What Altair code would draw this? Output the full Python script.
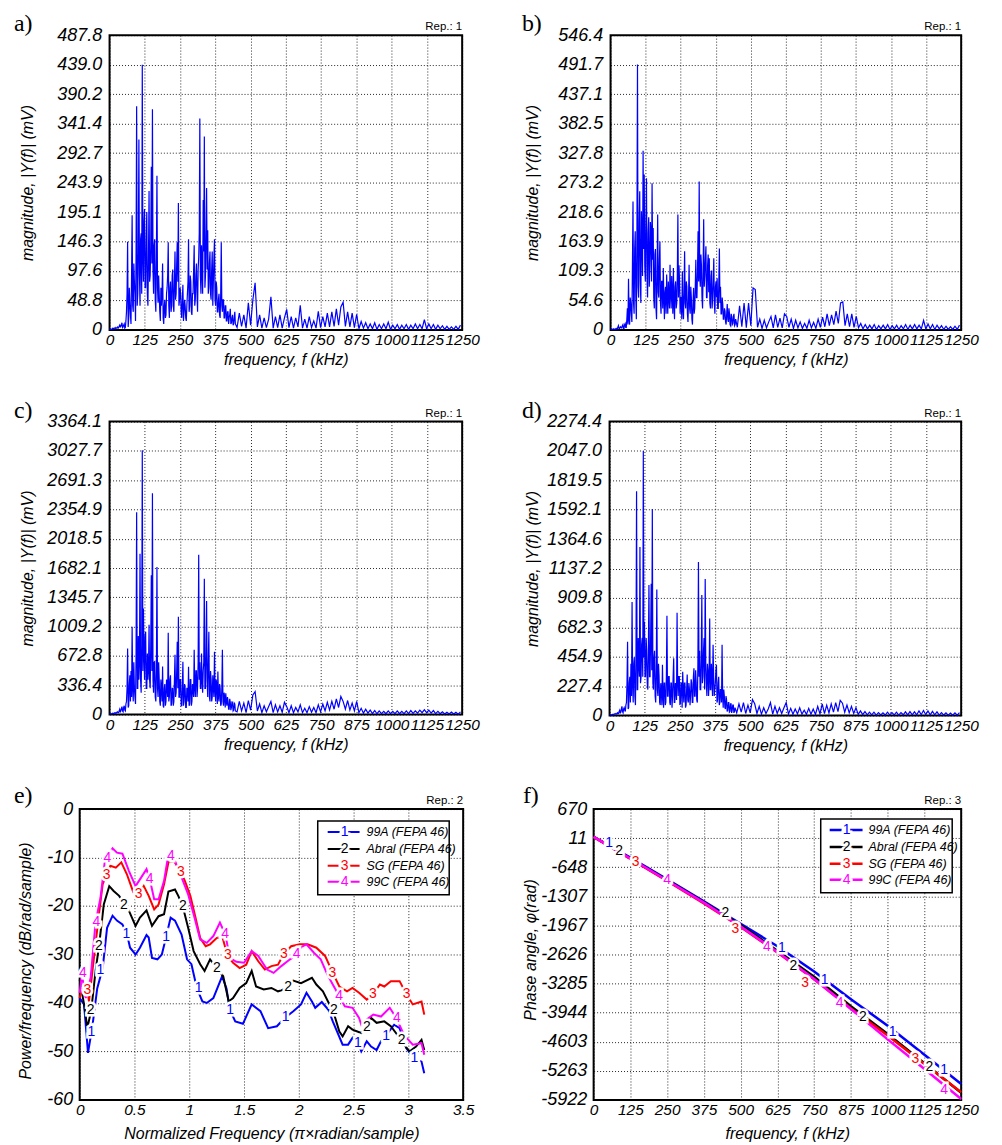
import altair as alt
import pandas as pd

SANS = "Liberation Sans Narrow, Liberation Sans, Arial, sans-serif"
PLAIN = "Liberation Sans, Arial, sans-serif"
SERIF = "Liberation Serif, Times New Roman, serif"

COLORS = ["#0000ff", "#000000", "#ff0000", "#ff00ff"]
SER_NUMS = ["1", "2", "3", "4"]
SER_NAMES = ["99A (FEPA 46)", "Abral (FEPA 46)", "SG (FEPA 46)", "99C (FEPA 46)"]

# ---------------- spectra (panels a-d) ----------------
F_TICKS = [0, 125, 250, 375, 500, 625, 750, 875, 1000, 1125, 1250]
FREQ_LOW = list(range(0, 448, 2))      # FFT bins 0..446 kHz
FREQ_HIGH = list(range(452, 1250, 8))  # FFT bins 452..1244 kHz

A_LOW = [1, 1, 2, 1, 1, 2, 3, 2, 2, 3, 4, 2, 3, 4, 5, 3,
         4, 6, 8, 5, 6, 9, 12, 4, 5, 8, 10, 3, 4, 15, 30, 60,
         146, 5, 20, 70, 45, 25, 10, 90, 190, 40, 30, 110, 80, 60, 15, 130,
         370, 40, 60, 130, 315, 90, 40, 150, 160, 60, 439, 120, 80, 180, 200, 70,
         70, 150, 195, 60, 40, 120, 230, 80, 90, 140, 270, 110, 365, 100, 60, 140,
         150, 50, 30, 120, 255, 70, 45, 90, 60, 30, 15, 70, 40, 60, 110, 20,
         10, 40, 50, 20, 25, 60, 70, 90, 145, 40, 20, 70, 80, 30, 40, 90,
         100, 40, 30, 80, 130, 50, 60, 110, 145, 80, 210, 40, 50, 70, 60, 30,
         20, 50, 75, 15, 30, 50, 40, 20, 15, 40, 60, 80, 150, 30, 40, 90,
         80, 30, 25, 60, 60, 100, 140, 40, 50, 90, 110, 60, 30, 100, 120, 160,
         350, 90, 60, 140, 100, 60, 215, 130, 320, 70, 90, 160, 235, 100, 165, 60,
         70, 110, 130, 60, 50, 100, 130, 40, 80, 120, 150, 50, 40, 80, 70, 30,
         30, 50, 60, 25, 20, 60, 145, 40, 30, 50, 50, 20, 20, 40, 40, 15,
         15, 30, 30, 10, 20, 25, 35, 10, 12, 20, 25, 8, 10, 20, 30, 10]
A_HIGH = [4, 28, 6, 25, 3, 45, 8, 50, 78, 5,
          25, 3, 20, 4, 18, 55, 3, 22, 4, 25,
          3, 20, 34, 4, 22, 3, 20, 5, 41, 3,
          18, 3, 22, 4, 15, 3, 31, 4, 22, 5,
          28, 5, 30, 6, 35, 8, 38, 46, 6, 30,
          5, 28, 4, 26, 2, 14, 3, 12, 2, 10,
          2, 12, 1, 9, 2, 10, 2, 13, 1, 8,
          2, 9, 1, 8, 2, 9, 1, 8, 2, 10,
          2, 9, 2, 17, 2, 10, 2, 9, 1, 8,
          2, 7, 1, 6, 1, 5, 1, 6, 1, 8]
A_YTICKS = [0, 48.8, 97.6, 146.3, 195.1, 243.9, 292.7, 341.4, 390.2, 439.0, 487.8]

B_LOW = [1, 1, 2, 1, 1, 2, 2, 1, 1, 2, 3, 2, 2, 5, 8, 3,
         3, 5, 6, 4, 4, 8, 10, 3, 3, 10, 12, 5, 5, 20, 40, 10,
         95, 20, 10, 60, 50, 30, 15, 120, 238, 50, 30, 150, 183, 60, 20, 180,
         492, 80, 60, 200, 257, 90, 50, 220, 180, 100, 332, 150, 288, 120, 90, 200,
         281, 100, 60, 180, 209, 80, 120, 200, 180, 90, 272, 130, 189, 60, 40, 140,
         150, 40, 20, 110, 214, 70, 60, 130, 164, 50, 30, 90, 90, 40, 115, 60,
         20, 70, 80, 30, 103, 60, 30, 90, 60, 40, 121, 70, 40, 100, 70, 30,
         115, 50, 20, 80, 90, 40, 50, 100, 214, 60, 120, 90, 30, 60, 60, 20,
         109, 40, 20, 70, 146, 50, 40, 90, 80, 30, 15, 60, 121, 40, 30, 80,
         60, 20, 10, 50, 78, 30, 40, 80, 130, 60, 60, 110, 183, 90, 275, 100,
         80, 140, 120, 60, 40, 110, 205, 80, 100, 130, 155, 60, 60, 120, 140, 70,
         133, 50, 40, 100, 110, 40, 60, 90, 133, 50, 30, 80, 90, 60, 96, 40,
         40, 90, 151, 50, 80, 30, 30, 60, 48, 20, 20, 40, 35, 15, 10, 30,
         48, 20, 15, 40, 30, 10, 8, 30, 25, 10, 12, 25, 30, 8, 10, 20]
B_HIGH = [5, 45, 6, 50, 4, 50, 8, 78, 75, 5,
          20, 3, 18, 4, 15, 25, 4, 28, 5, 22,
          4, 30, 25, 5, 20, 3, 18, 4, 15, 3,
          12, 3, 18, 4, 14, 3, 20, 5, 24, 6,
          30, 8, 28, 10, 35, 12, 50, 52, 8, 30,
          6, 30, 5, 25, 4, 12, 2, 10, 2, 9,
          2, 10, 1, 8, 2, 9, 2, 10, 1, 8,
          2, 9, 1, 8, 2, 10, 1, 9, 2, 10,
          2, 9, 2, 18, 2, 11, 2, 10, 1, 9,
          2, 8, 1, 7, 1, 6, 1, 7, 1, 9]
B_YTICKS = [0, 54.6, 109.3, 163.9, 218.6, 273.2, 327.8, 382.5, 437.1, 491.7, 546.4]

C_LOW = [5, 8, 10, 6, 8, 12, 15, 10, 10, 18, 20, 12, 15, 25, 30, 20,
         20, 40, 60, 30, 40, 70, 90, 40, 30, 80, 100, 50, 40, 120, 150, 300,
         758, 80, 100, 350, 450, 150, 500, 200, 1007, 300, 150, 600, 300, 200, 120, 700,
         2322, 300, 300, 900, 400, 600, 1845, 400, 250, 800, 3035, 500, 1216, 700, 400, 900,
         950, 300, 300, 700, 400, 500, 1030, 400, 300, 800, 1600, 500, 2540, 400, 250, 600,
         606, 200, 150, 500, 1693, 300, 200, 600, 400, 150, 100, 400, 300, 150, 550, 100,
         80, 300, 350, 100, 150, 400, 300, 200, 938, 150, 200, 400, 450, 100, 120, 300,
         300, 100, 150, 400, 686, 200, 250, 500, 835, 300, 1121, 200, 200, 400, 400, 100,
         100, 300, 606, 100, 150, 350, 300, 80, 80, 300, 300, 150, 549, 100, 120, 400,
         400, 100, 150, 350, 300, 200, 744, 300, 200, 500, 500, 200, 300, 600, 1834, 400,
         600, 300, 300, 700, 400, 250, 500, 600, 1560, 300, 300, 700, 1304, 400, 200, 600,
         950, 200, 150, 500, 400, 150, 200, 450, 300, 200, 721, 300, 150, 400, 350, 120,
         492, 200, 150, 350, 300, 100, 120, 300, 744, 150, 100, 250, 200, 80, 244, 150,
         100, 200, 150, 60, 60, 180, 140, 50, 80, 150, 130, 40, 50, 130, 120, 40]
C_HIGH = [30, 150, 40, 130, 20, 160, 50, 225, 263, 40,
          120, 20, 100, 30, 90, 149, 20, 110, 30, 100,
          25, 140, 90, 20, 100, 20, 80, 30, 110, 20,
          70, 20, 90, 25, 80, 20, 110, 30, 120, 40,
          140, 50, 150, 60, 180, 80, 206, 150, 60, 160,
          50, 130, 40, 150, 20, 70, 15, 60, 15, 50,
          10, 45, 8, 40, 10, 35, 8, 40, 10, 35,
          10, 40, 8, 35, 10, 40, 10, 45, 12, 40,
          15, 50, 20, 55, 20, 50, 15, 45, 10, 35,
          8, 30, 6, 25, 5, 28, 5, 25, 4, 30]
C_YTICKS = [0, 336.4, 672.8, 1009.2, 1345.7, 1682.1, 2018.5, 2354.9, 2691.3, 3027.7, 3364.1]

D_LOW = [3, 5, 8, 4, 5, 8, 10, 6, 8, 12, 15, 10, 10, 15, 20, 12,
         15, 30, 40, 20, 25, 50, 70, 30, 20, 50, 60, 40, 30, 80, 100, 250,
         571, 50, 60, 250, 300, 100, 400, 150, 879, 250, 100, 400, 450, 150, 80, 500,
         1735, 200, 200, 600, 400, 300, 1303, 250, 300, 550, 600, 300, 2047, 450, 725, 300,
         300, 600, 500, 250, 200, 500, 1010, 300, 300, 600, 1020, 350, 1598, 250, 200, 450,
         500, 150, 100, 350, 974, 200, 150, 400, 300, 100, 80, 250, 200, 80, 393, 150,
         60, 250, 250, 80, 100, 300, 771, 150, 150, 300, 300, 100, 80, 250, 250, 60,
         150, 300, 442, 100, 100, 250, 200, 120, 794, 250, 150, 300, 300, 80, 100, 250,
         250, 60, 339, 200, 100, 250, 250, 60, 80, 200, 316, 120, 100, 250, 200, 80,
         150, 280, 250, 100, 100, 300, 365, 150, 150, 350, 250, 120, 100, 400, 1187, 300,
         500, 200, 200, 450, 933, 250, 300, 500, 600, 200, 1056, 400, 250, 150, 400, 350,
         150, 300, 750, 200, 200, 400, 300, 150, 547, 300, 150, 200, 250, 350, 393, 100,
         120, 250, 300, 80, 100, 200, 200, 100, 547, 150, 60, 200, 150, 60, 50, 150,
         120, 30, 40, 100, 100, 25, 30, 90, 90, 20, 40, 80, 80, 20, 30, 60]
D_HIGH = [20, 90, 25, 100, 15, 80, 20, 123, 90, 15,
          70, 10, 60, 15, 50, 100, 10, 70, 15, 60,
          15, 60, 100, 10, 55, 10, 50, 12, 60, 10,
          40, 8, 55, 10, 50, 8, 70, 12, 90, 15,
          80, 20, 90, 25, 100, 30, 116, 95, 25, 80,
          20, 70, 15, 60, 8, 35, 6, 30, 5, 25,
          4, 25, 3, 22, 4, 20, 3, 25, 4, 22,
          4, 25, 3, 22, 5, 28, 4, 30, 5, 28,
          5, 35, 6, 38, 6, 35, 5, 32, 5, 28,
          3, 22, 3, 20, 2, 18, 2, 20, 2, 22]
D_YTICKS = [0, 227.4, 454.9, 682.3, 909.8, 1137.2, 1364.6, 1592.1, 1819.5, 2047.0, 2274.4]

# ---------------- PSD (panel e) ----------------
E_XTICKS = [0, 0.5, 1, 1.5, 2, 2.5, 3, 3.5]
E_YTICKS = [-60, -50, -40, -30, -20, -10, 0]
E1_X = [0, 0.04, 0.076, 0.115, 0.16, 0.21, 0.25, 0.30, 0.34, 0.39, 0.43, 0.46, 0.51, 0.55, 0.61, 0.63,
        0.66, 0.71, 0.75, 0.79, 0.83, 0.87, 0.93, 0.98, 1.02, 1.07, 1.12, 1.16, 1.22, 1.30, 1.34, 1.37,
        1.42, 1.49, 1.57, 1.65, 1.72, 1.80, 1.87, 1.95, 2.02, 2.07, 2.12, 2.15, 2.21, 2.27, 2.31, 2.40,
        2.45, 2.49, 2.54, 2.57, 2.62, 2.66, 2.71, 2.75, 2.80, 2.87, 2.92, 2.98, 3.05, 3.12, 3.145]
E1_Y = [-39, -40.3, -50.3, -45, -37, -32.8, -24.5, -22, -23, -23.8, -25.7, -28.6, -30, -28.6, -26, -26.5,
        -30.7, -31, -30, -26.3, -22.4, -23, -25.9, -31, -32, -37, -39.7, -40, -39, -34.5, -37, -41.4,
        -43.8, -44.3, -40.3, -41.7, -45.2, -44.8, -43.1, -41.7, -40.3, -37.9, -39.7, -41, -39.8, -41.4,
        -43.8, -48.6, -48.6, -47.2, -48.3, -50, -47.9, -49, -49.7, -47.9, -46.6, -44.5, -45.2, -49.3,
        -51.4, -52.1, -54.5]
E2_X = [0, 0.04, 0.07, 0.106, 0.145, 0.176, 0.22, 0.27, 0.31, 0.36, 0.45, 0.51, 0.55, 0.61, 0.66, 0.72,
        0.77, 0.81, 0.87, 0.90, 0.94, 0.99, 1.04, 1.10, 1.14, 1.19, 1.25, 1.31, 1.36, 1.40, 1.46, 1.52,
        1.57, 1.61, 1.68, 1.75, 1.81, 1.84, 1.90, 1.95, 2.02, 2.12, 2.16, 2.22, 2.28, 2.31, 2.37, 2.40,
        2.45, 2.49, 2.57, 2.62, 2.66, 2.71, 2.78, 2.84, 2.90, 2.93, 3.01, 3.07, 3.12, 3.145]
E2_Y = [-35.2, -40.3, -45.2, -41.4, -33.4, -28.3, -19.7, -15.9, -16.9, -17.9, -21, -24.1, -22.4, -20.9,
        -24.1, -22.1, -21.7, -17, -16.6, -17.9, -20, -24.5, -29.3, -32, -33.4, -31, -32.8, -34.5, -39.7,
        -39, -36.9, -35.9, -33.4, -36.6, -37.2, -36.9, -37.6, -37.4, -36.8, -35.4, -35.9, -34.8, -36.2,
        -37.6, -40.3, -41.4, -45.9, -46.9, -44.8, -45.5, -46.2, -45, -43.1, -44.1, -43.8, -44.8, -46.6,
        -47.7, -50, -49, -47.6, -49.7]
E3_X = [0, 0.02, 0.07, 0.085, 0.13, 0.176, 0.21, 0.245, 0.28, 0.33, 0.38, 0.43, 0.49, 0.54, 0.585, 0.63,
        0.68, 0.72, 0.77, 0.81, 0.86, 0.92, 0.96, 1.01, 1.05, 1.10, 1.15, 1.19, 1.25, 1.30, 1.35, 1.40,
        1.46, 1.52, 1.57, 1.63, 1.69, 1.75, 1.81, 1.86, 1.93, 2.01, 2.08, 2.16, 2.24, 2.31, 2.37, 2.44,
        2.49, 2.55, 2.62, 2.68, 2.74, 2.78, 2.84, 2.92, 2.98, 3.04, 3.12, 3.145]
E3_Y = [-39, -37, -37.2, -39.7, -30.7, -21.7, -15.5, -13.6, -11.7, -12.1, -11, -13.4, -17.2, -17.6, -15.9,
        -17.9, -20.7, -19.7, -15.5, -11, -10.7, -12.8, -14.8, -17.9, -21.7, -26.6, -28.3, -27.9, -26.6,
        -26.2, -30.3, -31.7, -32.8, -32.1, -29.3, -31.4, -33.1, -32.4, -32.1, -30, -28.3, -27.9, -27.9,
        -28.6, -30.3, -33.8, -36.6, -37.6, -36.9, -37.9, -39.3, -38.1, -36.2, -36.6, -35.5, -35.5, -38.1,
        -40.3, -39.7, -42.4]
E4_X = [0, 0.02, 0.055, 0.1, 0.145, 0.19, 0.23, 0.25, 0.30, 0.34, 0.39, 0.45, 0.51, 0.55, 0.61, 0.64,
        0.68, 0.72, 0.77, 0.81, 0.83, 0.87, 0.93, 0.99, 1.04, 1.10, 1.16, 1.22, 1.28, 1.33, 1.37, 1.43,
        1.50, 1.57, 1.63, 1.71, 1.77, 1.84, 1.92, 1.98, 2.02, 2.07, 2.14, 2.20, 2.26, 2.31, 2.37, 2.42,
        2.49, 2.55, 2.57, 2.62, 2.68, 2.75, 2.83, 2.89, 2.96, 3.04, 3.12, 3.145]
E4_Y = [-37.9, -34.1, -39, -34.8, -23.4, -18.3, -10.7, -10, -8.1, -9, -9.2, -12.8, -15.9, -14.5, -12.4,
        -14.5, -18.6, -18.6, -14.8, -9.3, -9.7, -10.7, -14.1, -17.6, -21.7, -26.9, -27.6, -26.2, -23.4,
        -25.9, -30.7, -31.5, -31.7, -29.3, -30.3, -33.1, -33.8, -32.4, -31, -30, -28.5, -27.9, -29.7, -31,
        -34.1, -36.2, -38.6, -40.7, -41, -43.1, -44.5, -43.4, -42.4, -42.8, -41, -43.1, -46.6, -48.6,
        -48.3, -50.7]
E_LAB_S = ["1"] * 10 + ["2"] * 9 + ["3"] * 9 + ["4"] * 9
E_LAB_X = [0.106, 0.19, 0.427, 0.788, 1.085, 1.373, 1.879, 2.539, 2.797, 3.055,
           0.1, 0.176, 0.403, 0.942, 1.252, 1.903, 2.321, 2.621, 2.939,
           0.07, 0.245, 0.539, 0.924, 1.352, 1.864, 2.306, 2.676, 2.985,
           0.03, 0.152, 0.252, 0.639, 0.833, 1.327, 1.979, 2.367, 2.894]
E_LAB_Y = [-45.9, -33.3, -25.7, -26.3, -36.9, -41.4, -43, -48.3, -46.9, -51.4,
           -41.4, -28.3, -19.7, -20, -32.8, -36.8, -41.5, -45, -47.7,
           -37.4, -13.6, -17.6, -12.9, -30.2, -30, -33.8, -38.1, -38.1,
           -33.8, -23.3, -10, -14.5, -9.7, -25.7, -30, -38.6, -43.1]

# ---------------- phase (panel f) ----------------
F_YTICKS = [-5922, -5263, -4603, -3944, -3285, -2626, -1967, -1307, -648, 11, 670]
F_X = [0, 125, 250, 375, 500, 625, 750, 875, 1000, 1125, 1250]
F1_Y = [40, -430, -920, -1420, -1930, -2440, -3010, -3640, -4240, -4900, -5560]
F2_Y = [40, -450, -940, -1440, -1960, -2540, -3130, -3800, -4430, -5090, -5760]
F3_Y = [40, -460, -960, -1470, -2000, -2580, -3190, -3850, -4460, -5110, -5750]
F4_Y = [40, -450, -950, -1450, -1990, -2570, -3180, -3860, -4550, -5220, -5900]
F_LAB_S = ["1"] * 5 + ["2"] * 5 + ["3"] * 4 + ["4"] * 4
F_LAB_X = [53, 640, 786, 1017, 1192, 87, 448, 679, 916, 1142, 143, 482, 719, 1094, 250, 589, 837, 1192]
F_LAB_Y = [-94, -2476, -3202, -4386, -5247, -281, -1689, -2888, -4041, -5187, -521, -2041, -3277, -4985,
           -940, -2453, -3727, -5689]

COLOR_SCALE = alt.Scale(domain=SER_NUMS, range=COLORS)
TICK_SIZE = 18
XTICK_SIZE = 15.5
TITLE_SIZE = 16
ONE = pd.DataFrame({"k": [0]})


def one_text(t, x, y, **kw):
    return alt.Chart(pd.DataFrame({"t": [t]})).mark_text(**kw).encode(
        text="t:N", x=alt.value(x), y=alt.value(y))


def anchor(box):
    # invisible layout anchor: fixes the extent that the panel occupies in the page grid
    l, t, r, b = box
    return alt.Chart(ONE).mark_rule(strokeOpacity=0, strokeWidth=1).encode(
        x=alt.value(l), x2=alt.value(r), y=alt.value(t), y2=alt.value(b))


def letter_mark(t, x, y):
    return one_text(t, x, y, align="left", baseline="alphabetic", font=SERIF, fontSize=24, color="black")


def rep_mark(t, w):
    return one_text(t, w, -5, align="right", baseline="alphabetic", font=PLAIN, fontSize=11.5, color="black")


def x_axis(title, values, w, title_y, title_dx=0):
    return alt.Axis(values=values, title=title, labelExpr="'' + datum.value", labelFlush=False,
                    labelOverlap=False, labelPadding=3, labelFontSize=XTICK_SIZE,
                    titleX=w / 2 + title_dx, titleY=title_y, titleBaseline="top", titleAlign="center")


def y_axis(title, values, h, title_x, label_expr, pad, title_dy=0):
    return alt.Axis(values=values, title=title, labelExpr=label_expr, labelFlush=False,
                    labelOverlap=False, labelPadding=pad, titleX=title_x, titleY=h / 2 + title_dy,
                    titleAngle=270, titleBaseline="bottom", titleAlign="center")


def spectrum(letter, low, high, yticks, w, h, letter_x, letter_y, ytitle_x, box):
    df = pd.DataFrame({"f": FREQ_LOW + FREQ_HIGH, "m": low + high})
    line = alt.Chart(df).mark_line(color="#0000ff", strokeWidth=1.2).encode(
        x=alt.X("f:Q", scale=alt.Scale(domain=[0, 1250], nice=False, zero=False),
                axis=x_axis("frequency, f (kHz)", F_TICKS, w, 22)),
        y=alt.Y("m:Q", scale=alt.Scale(domain=[0, yticks[-1]], nice=False, zero=False),
                axis=y_axis("magnitude, |Y(f)| (mV)", yticks, h, ytitle_x,
                            "datum.value == 0 ? '0' : format(datum.value, '.1f')", 8)),
    )
    return alt.layer(line, letter_mark(letter, letter_x, letter_y), rep_mark("Rep.: 1", w),
                     anchor(box)).properties(width=w, height=h)


def legend_layers(box, rows_y, line_x, num_x, label_x, lw):
    out = [alt.Chart(ONE).mark_rect(fill="white", stroke="black", strokeWidth=1.5).encode(
        x=alt.value(box[0]), x2=alt.value(box[1]), y=alt.value(box[2]), y2=alt.value(box[3]))]
    for i in range(4):
        yy = rows_y[i]
        out.append(alt.Chart(ONE).mark_rule(color=COLORS[i], strokeWidth=lw).encode(
            x=alt.value(line_x[0]), x2=alt.value(line_x[1]), y=alt.value(yy)))
        out.append(one_text(SER_NUMS[i], num_x, yy, font=PLAIN, fontSize=14, fill="white",
                            stroke="white", strokeWidth=5))
        out.append(one_text(SER_NUMS[i], num_x, yy, font=PLAIN, fontSize=14, color=COLORS[i]))
        out.append(one_text(SER_NAMES[i], label_x, yy, font=SANS, fontStyle="italic", fontSize=12.5,
                            align="left", color="black"))
    return out


def series_df(xs_list, ys_list):
    rows = []
    for s, xs, ys in zip(SER_NUMS, xs_list, ys_list):
        for xv, yv in zip(xs, ys):
            rows.append({"s": s, "x": xv, "y": yv})
    return pd.DataFrame(rows)


def curve_panel(df, lab_df, xenc, yenc, lw, w, h, letter, letter_x, letter_y, rep, legend, box):
    lines = alt.Chart(df).mark_line(strokeWidth=lw).encode(
        x=xenc, y=yenc,
        color=alt.Color("s:N", scale=COLOR_SCALE, legend=None), order=alt.Order("x:Q"))
    halo = alt.Chart(lab_df).mark_text(font=PLAIN, fontSize=14, fill="white", stroke="white",
                                       strokeWidth=5).encode(x=xenc, y=yenc, text="s:N")
    labs = alt.Chart(lab_df).mark_text(font=PLAIN, fontSize=14).encode(
        x=xenc, y=yenc, color=alt.Color("s:N", scale=COLOR_SCALE, legend=None), text="s:N")
    layers = [lines, halo, labs] + legend + [letter_mark(letter, letter_x, letter_y), rep_mark(rep, w),
                                             anchor(box)]
    return alt.layer(*layers).properties(width=w, height=h)


# panel e
EW, EH = 385, 292
e_df = series_df([E1_X, E2_X, E3_X, E4_X], [E1_Y, E2_Y, E3_Y, E4_Y])
e_lab = pd.DataFrame({"s": E_LAB_S, "x": E_LAB_X, "y": E_LAB_Y})
e_x = alt.X("x:Q", scale=alt.Scale(domain=[0, 3.5], nice=False, zero=False),
            axis=x_axis("Normalized Frequency (\u03c0\u00d7radian/sample)", E_XTICKS, EW, 26))
e_y = alt.Y("y:Q", scale=alt.Scale(domain=[-60, 0], nice=False, zero=False),
            axis=y_axis("Power/frequency (dB/rad/sample)", E_YTICKS, EH, -46, "'' + datum.value", 7, 6))
panel_e = curve_panel(e_df, e_lab, e_x, e_y, 2, EW, EH, "e)", -66, -6, "Rep.: 2",
                      legend_layers([239, 371, 12, 86], [23, 40, 57, 73], [249, 281], 266, 288, 2),
                      [-69, -34, 421, 339])

# panel f
FW, FH = 369, 292
f_df = series_df([F_X] * 4, [F1_Y, F2_Y, F3_Y, F4_Y])
f_lab = pd.DataFrame({"s": F_LAB_S, "x": F_LAB_X, "y": F_LAB_Y})
f_x = alt.X("x:Q", scale=alt.Scale(domain=[0, 1250], nice=False, zero=False),
            axis=x_axis("frequency, f (kHz)", F_TICKS, FW, 26, 10))
f_y = alt.Y("y:Q", scale=alt.Scale(domain=[-5922, 670], nice=False, zero=False),
            axis=y_axis("Phase angle, \u03c6(rad)", F_YTICKS, FH, -55, "'' + datum.value", 7, -5))
panel_f = curve_panel(f_df, f_lab, f_x, f_y, 2.5, FW, FH, "f)", -71, -6, "Rep.: 3",
                      legend_layers([228, 360, 10, 84], [21, 38, 55, 71], [237, 270], 254, 276, 2.5),
                      [-93, -34, 409, 339])

panel_a = spectrum("a)", A_LOW, A_HIGH, A_YTICKS, 354, 296, -96, -4, -74, [-99, -32, 391, 353])
panel_b = spectrum("b)", B_LOW, B_HIGH, B_YTICKS, 352, 296, -89, -4, -70, [-110, -32, 392, 353])
panel_c = spectrum("c)", C_LOW, C_HIGH, C_YTICKS, 354, 294, -96, -4, -74, [-99, -33, 391, 353])
panel_d = spectrum("d)", D_LOW, D_HIGH, D_YTICKS, 353, 295, -88, -4, -69, [-109, -33, 393, 353])


def spacer():
    return alt.Chart(ONE).mark_rule(strokeOpacity=0).encode(
        x=alt.value(0), x2=alt.value(10), y=alt.value(0)
    ).properties(width=1, height=1, view=alt.ViewBackground(strokeOpacity=0))


def row(left, right):
    inner = alt.concat(left, right, columns=2, spacing=0, align="none")
    return alt.concat(spacer(), inner, columns=2, spacing=0, align="none")


chart = alt.concat(row(panel_a, panel_b), row(panel_c, panel_d), row(panel_e, panel_f),
                   columns=1, spacing=0, align="none").properties(
    padding={"left": 0, "top": 0, "right": 0, "bottom": 0}, background="white"
).configure_axis(
    labelFont=SANS, labelFontStyle="italic", labelFontSize=TICK_SIZE, labelColor="black",
    titleFont=SANS, titleFontStyle="italic", titleFontWeight="normal", titleFontSize=TITLE_SIZE,
    titleColor="black",
    grid=True, gridColor="#000000", gridDash=[1, 2], gridOpacity=0.85, gridWidth=1,
    domain=False, ticks=False
).configure_view(stroke="black", strokeWidth=2)

chart.save("out.html", embed_options={"renderer": "svg", "actions": False})
